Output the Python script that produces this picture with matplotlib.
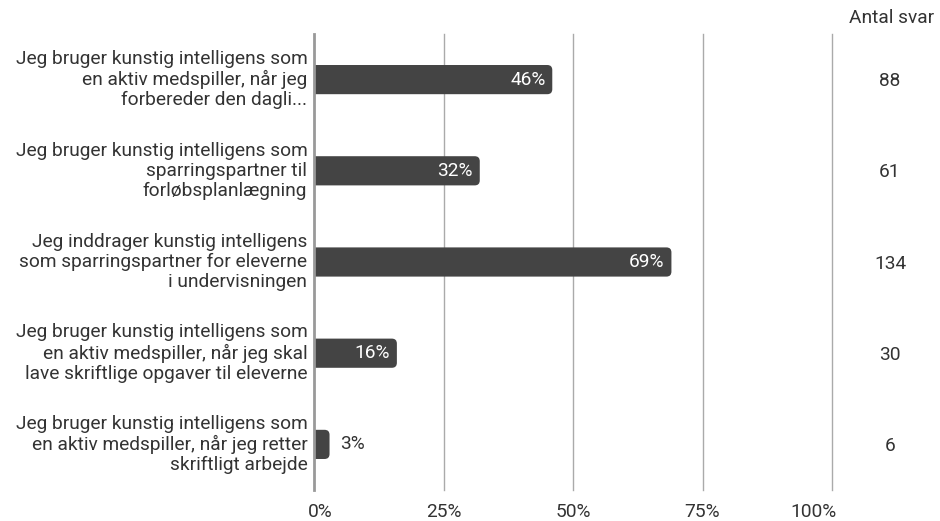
import matplotlib
matplotlib.use("Agg")
import matplotlib.pyplot as plt
import matplotlib.transforms as mtrans
from matplotlib.patches import PathPatch
from matplotlib.path import Path

labels = [
    "Jeg bruger kunstig intelligens som\nen aktiv medspiller, når jeg\nforbereder den dagli...",
    "Jeg bruger kunstig intelligens som\nsparringspartner til\nforløbsplanlægning",
    "Jeg inddrager kunstig intelligens\nsom sparringspartner for eleverne\ni undervisningen",
    "Jeg bruger kunstig intelligens som\nen aktiv medspiller, når jeg skal\nlave skriftlige opgaver til eleverne",
    "Jeg bruger kunstig intelligens som\nen aktiv medspiller, når jeg retter\nskriftligt arbejde",
]
percents = [46, 32, 69, 16, 3]
answers = [88, 61, 134, 30, 6]
xticks = [0, 25, 50, 75, 100]

plt.rcParams['font.family'] = ['Roboto', 'DejaVu Sans']
txt = '#333333'
bar_c = '#444444'
fs = 13.8

fig = plt.figure(figsize=(9.4, 5.21), dpi=100)
W, H = 940, 521
ax = fig.add_axes([314 / W, 1 - 490 / H, (832 - 314) / W, (490 - 34) / H])
ax.set_xlim(0, 100)
ax.set_ylim(4.5, -0.5)
ax.axis('off')

px_x = 518 / 100
px_y = 456 / 5

tick_tr = mtrans.blended_transform_factory(ax.transData, fig.transFigure)
# end labels are nudged inward like in the source chart
nudge = {0: 6 / px_x, 100: -19 / px_x}
for x in xticks:
    if x == 0:
        ax.axvline(x, color='#999999', lw=2, zorder=3, clip_on=False)
    else:
        ax.axvline(x, color='#aaaaaa', lw=1, zorder=0, clip_on=False)
    ax.text(x + nudge.get(x, 0), 1 - 512 / H, f"{x}%", transform=tick_tr,
            ha='center', va='center', fontsize=fs, color=txt)


def bar_path(w, y0, h, rx, ry):
    rx = min(rx, w)
    y1 = y0 + h
    verts = [(0, y0), (w - rx, y0), (w, y0), (w, y0 + ry), (w, y1 - ry),
             (w, y1), (w - rx, y1), (0, y1), (0, y0)]
    codes = [Path.MOVETO, Path.LINETO, Path.CURVE3, Path.CURVE3, Path.LINETO,
             Path.CURVE3, Path.CURVE3, Path.LINETO, Path.CLOSEPOLY]
    return Path(verts, codes)


h = 0.32
rx = 5 / px_x
ry = 5 / px_y
for i, (p, n) in enumerate(zip(percents, answers)):
    ax.add_patch(PathPatch(bar_path(p, i - h / 2, h, rx, ry), fc=bar_c, ec='none', zorder=2))
    if p >= 10:
        ax.text(p - 1.3, i, f"{p}%", ha='right', va='center', color='white', fontsize=fs, zorder=4)
    else:
        ax.text(p + 2, i, f"{p}%", ha='left', va='center', color=txt, fontsize=fs, zorder=4)
    ax.text(-1.3, i, labels[i], ha='right', va='center', color=txt, fontsize=fs,
            linespacing=1.15, clip_on=False)
    fig.text(890 / W, 1 - (81 + i * 91.3) / H, str(n), ha='center', va='center',
             color=txt, fontsize=fs)

fig.text(892 / W, 1 - 18 / H, "Antal svar", ha='center', va='center', color=txt, fontsize=fs)

fig.savefig("out.png", dpi=100, facecolor='white')
